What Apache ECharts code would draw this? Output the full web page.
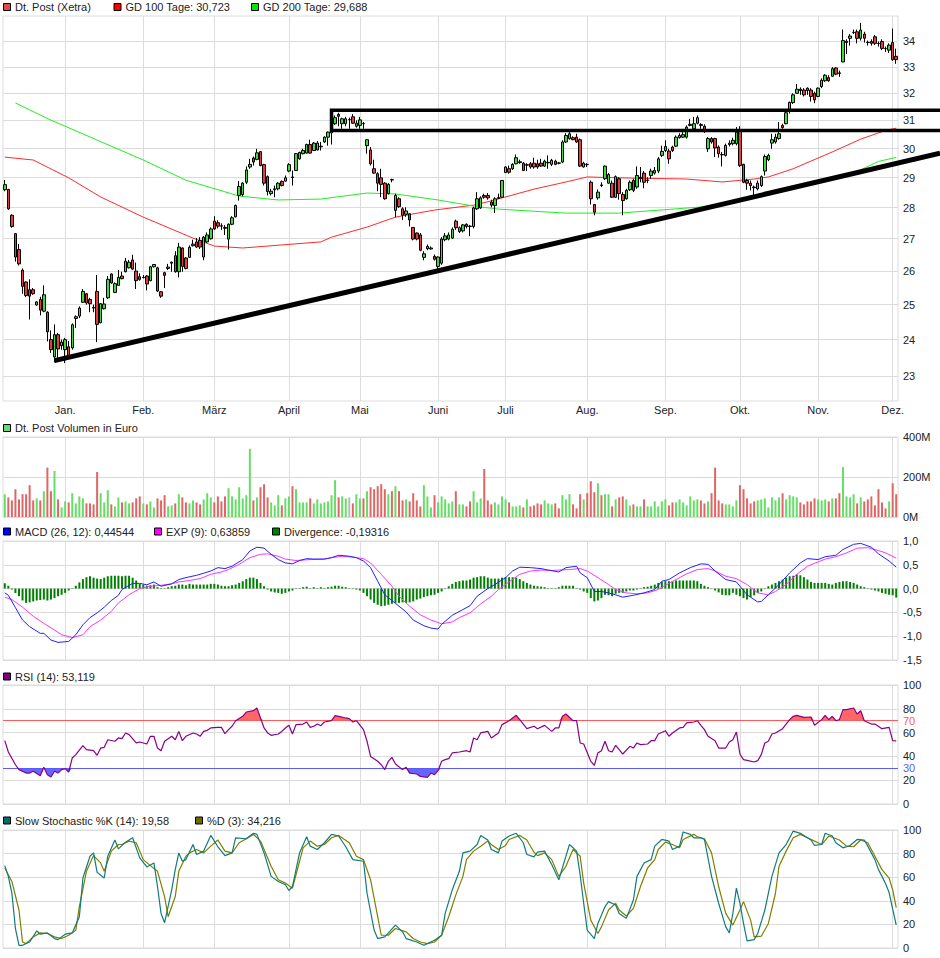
<!DOCTYPE html>
<html><head><meta charset="utf-8">
<script src="https://cdn.jsdelivr.net/npm/echarts@6/dist/echarts.min.js"></script>
<style>html,body{margin:0;padding:0;background:#fff}#c{width:940px;height:958px}</style>
</head><body><div id="c"></div>
<script>
// ---------- DATA ----------
const monthStarts = [17,39,59,80,100,122,141,164,186,207,229,250];
const monthLabels = ['Jan.','Feb.','März','April','Mai','Juni','Juli','Aug.','Sep.','Okt.','Nov.','Dez.'];
const priceTicks = [23,24,25,26,27,28,29,30,31,32,33,34];

const open = [28.59,28.60,27.75,27.16,26.66,26.03,25.67,25.44,25.44,24.99,
25.15,24.81,24.78,24.00,23.52,24.14,23.83,23.72,23.80,23.77,
24.60,24.67,25.07,25.32,25.15,24.92,25.39,24.48,24.88,25.20,
25.91,25.36,25.57,25.85,25.98,26.10,26.34,26.00,25.83,25.80,
25.85,25.71,26.13,26.10,25.38,25.95,26.08,26.24,26.47,25.98,
26.71,26.40,26.42,26.78,26.90,26.95,26.43,26.90,27.00,27.56,
27.51,27.41,27.36,26.99,27.46,27.70,28.40,28.43,28.84,29.36,
29.67,29.62,29.89,29.44,29.03,28.46,28.59,28.62,28.87,28.88,
29.22,29.02,29.24,29.64,29.82,29.84,30.14,29.93,29.95,30.06,
30.23,30.40,30.55,30.88,31.22,30.88,30.88,31.03,31.13,30.79,
30.82,30.89,30.10,29.95,29.30,29.13,28.99,28.81,28.46,28.93,
27.91,28.29,27.96,27.78,27.80,27.36,27.18,27.12,26.42,26.69,
26.68,26.45,26.14,26.24,26.97,26.99,27.02,27.56,27.23,27.25,
27.46,27.40,27.39,27.96,27.99,28.40,28.40,28.18,28.07,28.30,
28.34,29.17,29.30,29.30,29.47,29.51,29.49,29.42,29.47,29.49,
29.47,29.49,29.39,29.50,29.45,29.56,29.50,29.53,30.23,30.35,
30.38,30.40,30.31,29.36,29.45,28.84,28.10,28.32,28.75,28.96,
28.81,28.81,28.34,28.96,28.43,28.29,28.59,28.90,28.68,28.96,
29.15,28.90,29.07,29.15,29.22,29.76,29.93,29.91,30.05,30.08,
30.38,30.40,30.40,30.82,30.70,30.90,30.85,30.79,29.99,30.35,
30.35,30.05,29.79,29.76,30.14,30.17,30.17,30.62,29.45,28.90,
28.81,28.68,28.62,28.73,29.22,29.61,30.19,30.23,30.35,30.82,
30.88,31.40,31.65,32.00,32.15,32.12,32.19,32.12,32.00,31.88,
32.25,32.47,32.59,32.64,32.96,32.77,33.19,33.95,34.12,34.35,
34.38,34.12,34.29,33.96,33.99,34.18,33.92,33.99,33.72,33.65,
33.95,33.41];
const close = [28.76,27.96,27.39,26.43,26.22,25.54,25.27,25.25,25.32,25.08,
24.84,25.29,24.22,23.72,24.14,23.74,23.93,24.00,23.54,24.42,
24.65,24.90,25.39,25.05,25.03,24.90,24.43,25.03,25.02,25.75,
25.64,25.62,25.81,25.77,26.30,26.27,26.06,25.71,25.75,25.81,
25.61,26.13,26.20,25.40,25.25,25.87,26.12,26.27,25.98,26.74,
26.14,26.08,26.73,26.83,26.74,26.74,27.05,27.12,27.31,27.31,
27.40,27.40,27.33,27.46,27.67,28.07,28.70,28.81,29.26,29.45,
29.53,29.85,29.41,28.81,28.53,28.54,28.62,28.81,28.73,28.99,
29.44,29.00,29.82,29.86,29.93,30.14,29.84,30.19,30.19,30.08,
30.40,30.58,31.13,31.10,31.15,31.06,31.06,31.03,30.90,30.90,
31.02,30.88,30.31,29.47,29.15,28.81,28.77,28.29,28.77,28.92,
28.40,28.03,27.75,27.89,27.60,26.99,26.99,26.64,26.53,26.76,
26.71,26.36,26.43,26.99,27.09,27.12,27.30,27.35,27.35,27.44,
27.39,27.39,27.99,28.29,28.32,28.34,28.32,28.08,28.29,28.33,
28.90,29.36,29.18,29.45,29.68,29.54,29.24,29.44,29.36,29.36,
29.36,29.39,29.56,29.52,29.59,29.45,29.49,30.23,30.46,30.52,
30.31,30.23,29.39,29.49,29.44,28.29,27.85,28.51,28.73,29.39,
29.10,28.34,29.03,28.46,28.23,28.57,28.84,28.57,29.07,29.01,
28.84,28.92,29.22,29.24,29.64,29.90,30.07,29.64,29.93,30.40,
30.46,30.49,30.76,30.86,30.88,31.10,30.82,30.64,30.35,30.23,
30.02,29.82,29.78,30.11,30.19,30.29,30.58,29.41,28.84,28.81,
28.73,28.66,28.81,29.03,29.72,29.76,30.31,30.40,30.52,30.74,
31.28,31.66,31.94,32.15,32.10,31.94,32.10,31.88,31.75,32.19,
32.49,32.68,32.47,32.93,32.72,32.75,34.03,34.00,34.21,34.36,
34.12,34.45,34.12,33.95,33.92,33.92,33.91,33.72,33.71,33.85,
33.28,33.28];
const low = [28.54,27.93,27.35,26.29,26.17,25.32,25.22,24.57,25.29,24.97,
24.69,24.78,23.95,23.63,23.37,23.49,23.72,23.35,23.49,23.72,
24.33,24.61,25.05,25.00,24.78,24.78,23.93,24.46,24.86,25.17,
25.62,25.34,25.56,25.75,25.96,26.08,26.03,25.46,25.71,25.78,
25.42,25.69,26.11,25.37,25.20,25.49,26.03,25.98,25.95,25.81,
25.98,26.05,26.40,26.76,26.71,26.68,26.33,26.87,26.97,27.28,
27.33,27.28,27.12,26.66,27.43,27.68,28.23,28.37,28.78,29.30,
29.41,29.59,29.38,28.73,28.40,28.40,28.34,28.57,28.70,28.86,
29.18,28.73,29.22,29.61,29.79,29.82,29.82,29.91,29.93,29.93,
30.20,30.10,30.14,30.84,30.79,30.70,30.79,30.70,30.88,30.74,
30.70,30.70,29.82,29.41,29.13,28.54,28.34,28.26,28.43,28.84,
27.68,27.99,27.60,27.70,27.39,26.95,26.95,26.61,26.33,26.64,
26.66,26.32,26.05,26.19,26.92,26.95,26.99,27.28,27.18,27.20,
27.33,27.08,27.33,27.93,27.96,28.29,28.26,28.01,27.82,28.29,
28.32,29.15,29.13,29.26,29.45,29.47,29.22,29.22,29.30,29.30,
29.30,29.36,29.36,29.30,29.39,29.42,29.45,29.49,30.20,30.31,
30.29,30.20,29.36,29.34,29.36,28.10,27.75,28.26,28.68,28.92,
28.79,28.32,28.32,28.26,27.75,28.26,28.55,28.51,28.62,28.84,
28.64,28.81,28.96,29.10,29.15,29.70,29.88,29.47,29.88,30.05,
30.35,30.38,30.35,30.79,30.67,30.86,30.70,30.55,29.88,30.17,
29.70,29.68,29.38,29.72,30.07,30.11,30.11,29.36,28.81,28.59,
28.57,28.40,28.57,28.68,29.07,29.56,29.99,30.17,30.31,30.70,
30.86,31.25,31.60,31.98,31.94,31.88,31.94,31.69,31.63,31.85,
32.19,32.43,32.43,32.62,32.68,32.62,33.19,33.50,33.83,34.29,
33.92,34.03,33.95,33.83,33.83,33.85,33.79,33.65,33.58,33.54,
33.23,33.12];
const high = [28.92,28.62,27.78,27.18,26.83,26.08,25.69,25.75,25.49,25.10,
25.23,25.57,24.81,24.26,24.43,24.19,24.00,24.05,23.96,24.46,
24.69,24.95,25.46,25.34,25.20,25.00,25.88,25.05,25.20,25.85,
25.93,25.66,26.03,25.98,26.40,26.34,26.50,26.26,25.93,25.88,
25.88,26.16,26.21,26.13,25.40,25.98,26.22,26.29,26.61,26.87,
26.73,26.43,26.79,26.97,27.02,27.05,27.09,27.20,27.36,27.72,
27.59,27.49,27.43,27.49,27.72,28.10,28.88,28.84,29.38,29.64,
29.72,29.99,29.91,29.47,29.07,28.62,28.73,28.84,28.90,29.07,
29.49,29.24,29.84,29.89,29.99,30.17,30.31,30.23,30.26,30.23,
30.43,30.60,31.30,31.18,31.28,31.10,31.13,31.10,31.23,31.00,
31.13,30.94,30.33,30.05,29.61,29.18,29.30,28.84,28.81,28.96,
28.46,28.34,28.01,28.01,27.82,27.36,27.20,27.18,26.61,26.82,
26.76,26.51,26.45,27.05,27.18,27.20,27.36,27.61,27.39,27.47,
27.49,27.44,28.03,28.51,28.37,28.46,28.48,28.26,28.34,28.46,
28.92,29.38,29.41,29.49,29.79,29.61,29.53,29.49,29.53,29.68,
29.61,29.64,29.61,29.76,29.64,29.61,29.53,30.29,30.54,30.58,
30.43,30.52,30.35,29.54,29.49,28.90,28.12,28.60,28.84,29.41,
29.15,28.90,29.07,29.01,28.51,28.62,28.90,28.96,29.38,29.36,
29.22,29.01,29.30,29.36,29.70,30.10,30.29,29.99,30.10,30.46,
30.54,30.58,30.82,31.06,31.13,31.18,30.90,30.86,30.40,30.40,
30.38,30.11,29.88,30.17,30.29,30.38,30.76,30.79,29.47,28.96,
28.90,28.73,28.90,29.07,29.79,29.82,30.52,30.52,30.94,30.88,
31.31,31.69,32.00,32.35,32.22,32.19,32.22,32.19,32.06,32.22,
32.56,32.72,32.68,32.99,32.99,32.86,34.47,34.08,34.29,34.47,
34.47,34.74,34.38,34.03,34.08,34.25,33.99,34.08,33.79,33.92,
34.51,33.71];

const gd100 = [[0,29.70],[8,29.60],[18,28.99],[27,28.35],[39,27.69],[53,27.02],[59,26.77],[67,26.71],[89,26.90],[92,27.05],[102,27.37],[110,27.69],[121,27.92],[132,28.08],[137,28.22],[141,28.35],[149,28.61],[158,28.85],[164,29.02],[173,28.99],[192,28.95],[202,28.85],[211,28.95],[215,29.02],[222,29.30],[233,29.88],[241,30.33],[248,30.64],[251,30.72]];
const gd200 = [[3,31.64],[13,31.01],[39,29.60],[51,28.91],[66,28.38],[77,28.25],[89,28.28],[102,28.48],[110,28.45],[122,28.25],[132,28.05],[139,27.95],[158,27.82],[173,27.82],[196,28.02],[213,28.35],[222,28.68],[239,29.15],[246,29.55],[251,29.69]];

// drawn lines: [index, price]
const trendFrom = [14, 23.42], trendTo = [251, 29.48];
const boxStart = 92, boxTop = 31.37, boxBottom = 30.64, boxRef = 251;

const volume = [114,98,83,139,88,114,114,159,83,93,
83,129,247,129,230,88,48,78,73,119,
68,103,93,68,68,63,225,119,73,134,
63,53,98,73,78,68,73,93,103,68,
63,78,48,93,83,109,53,58,68,114,
98,73,68,83,73,63,88,119,98,73,
103,78,103,144,103,88,149,93,109,341,
83,98,149,164,98,73,58,109,58,93,
103,154,139,73,73,73,93,68,88,68,
73,78,109,184,98,103,93,98,68,114,
93,93,129,149,139,154,164,139,114,129,
154,129,83,88,78,119,83,53,159,103,
48,109,73,103,88,68,78,129,63,63,
53,78,129,73,93,240,83,63,73,63,
103,88,73,53,53,58,48,88,53,58,
68,63,83,68,63,68,43,109,88,114,
63,43,114,88,119,179,124,169,109,114,
114,53,88,98,103,88,58,63,53,53,
88,53,53,78,53,78,88,58,73,73,
88,73,58,103,83,88,83,68,78,119,
247,83,68,63,63,53,83,159,139,93,
68,78,83,88,93,48,98,83,98,119,
88,109,103,98,73,63,78,78,93,88,
83,88,78,93,93,119,250,103,98,114,
68,98,78,88,103,58,139,73,43,78,
169,114];

const macd = [[0,-0.09],[1,-0.14],[3,-0.40],[5,-0.66],[7,-0.80],[10,-0.94],[11,-0.94],[13,-1.08],[15,-1.13],[18,-1.11],[20,-0.97],[22,-0.76],[24,-0.61],[26,-0.51],[28,-0.39],[30,-0.25],[32,-0.14],[33,-0.02],[36,0.11],[38,0.11],[40,0.08],[42,0.14],[44,0.05],[47,0.10],[49,0.19],[51,0.23],[54,0.28],[55,0.30],[58,0.37],[60,0.44],[62,0.42],[64,0.47],[67,0.61],[69,0.79],[71,0.87],[73,0.85],[75,0.72],[77,0.61],[79,0.54],[81,0.52],[83,0.59],[85,0.63],[87,0.62],[90,0.62],[92,0.65],[94,0.70],[97,0.68],[99,0.65],[101,0.58],[103,0.44],[105,0.155],[107,-0.13],[109,-0.25],[111,-0.37],[113,-0.49],[115,-0.66],[118,-0.78],[120,-0.83],[122,-0.85],[123,-0.75],[126,-0.56],[129,-0.44],[131,-0.36],[133,-0.16],[136,0.0],[138,0.085],[141,0.23],[143,0.37],[145,0.45],[148,0.44],[151,0.42],[153,0.39],[156,0.35],[158,0.44],[161,0.47],[162,0.33],[164,0.23],[166,-0.06],[168,-0.06],[170,-0.09],[172,-0.13],[174,-0.18],[177,-0.14],[180,-0.09],[183,-0.02],[185,0.155],[187,0.19],[190,0.33],[193,0.44],[196,0.52],[198,0.51],[200,0.37],[203,0.19],[206,0.14],[207,0.05],[209,-0.13],[212,-0.28],[213,-0.27],[215,-0.13],[218,0.085],[221,0.33],[224,0.54],[226,0.63],[229,0.61],[231,0.67],[234,0.70],[236,0.82],[239,0.93],[241,0.95],[244,0.87],[246,0.73],[249,0.58],[251,0.45]];
const signal = [[0,-0.18],[2,-0.23],[5,-0.39],[8,-0.58],[11,-0.73],[14,-0.87],[16,-0.97],[19,-1.03],[22,-0.97],[24,-0.80],[27,-0.66],[30,-0.48],[32,-0.30],[35,-0.13],[38,0.0],[41,0.05],[44,0.07],[47,0.10],[49,0.14],[52,0.17],[55,0.21],[58,0.30],[61,0.35],[63,0.40],[66,0.51],[69,0.65],[72,0.72],[74,0.73],[77,0.68],[79,0.62],[82,0.59],[86,0.61],[90,0.62],[92,0.65],[95,0.68],[98,0.66],[101,0.63],[103,0.54],[106,0.30],[109,0.05],[111,-0.16],[114,-0.37],[117,-0.55],[120,-0.66],[123,-0.74],[126,-0.70],[128,-0.61],[131,-0.51],[134,-0.32],[137,-0.16],[139,-0.02],[142,0.14],[145,0.30],[148,0.37],[151,0.39],[154,0.38],[156,0.39],[159,0.40],[162,0.42],[164,0.37],[167,0.23],[170,0.085],[172,-0.02],[175,-0.09],[178,-0.11],[181,-0.09],[184,-0.02],[186,0.07],[189,0.19],[192,0.31],[195,0.40],[198,0.42],[200,0.37],[203,0.26],[206,0.21],[209,0.085],[212,-0.09],[215,-0.13],[217,-0.06],[220,0.085],[223,0.30],[226,0.47],[229,0.56],[231,0.62],[234,0.67],[237,0.75],[240,0.85],[243,0.86],[246,0.80],[248,0.75],[251,0.64]];
const divergence = [0.11,0.06,-0.02,-0.09,-0.16,-0.25,-0.30,-0.29,-0.27,-0.25,
-0.24,-0.23,-0.25,-0.23,-0.20,-0.16,-0.13,-0.09,-0.04,-0.01,
0.06,0.13,0.20,0.24,0.26,0.23,0.21,0.20,0.23,0.26,
0.27,0.27,0.27,0.26,0.27,0.27,0.23,0.17,0.10,0.085,
0.06,0.07,0.085,0.03,0.01,0.01,0.03,0.05,0.06,0.085,
0.085,0.07,0.10,0.085,0.085,0.085,0.085,0.085,0.10,0.10,
0.085,0.06,0.05,0.05,0.07,0.085,0.12,0.155,0.20,0.23,
0.23,0.20,0.12,0.05,-0.02,-0.06,-0.08,-0.09,-0.11,-0.09,
-0.06,-0.04,-0.01,0.01,0.03,0.04,-0.01,0.03,0.01,0.03,
0.01,0.03,0.04,0.06,0.06,0.04,0.03,0.01,-0.01,-0.02,
-0.04,-0.09,-0.16,-0.23,-0.30,-0.34,-0.37,-0.36,-0.34,-0.32,
-0.30,-0.30,-0.29,-0.30,-0.29,-0.27,-0.23,-0.21,-0.18,-0.16,
-0.14,-0.13,-0.09,-0.06,-0.01,0.05,0.10,0.14,0.155,0.17,
0.17,0.19,0.23,0.24,0.26,0.26,0.23,0.21,0.21,0.21,
0.23,0.24,0.24,0.24,0.23,0.20,0.155,0.12,0.085,0.06,
0.05,0.04,0.03,0.01,0.01,-0.01,0.03,0.06,0.06,0.06,
0.06,0.01,-0.02,-0.06,-0.09,-0.20,-0.27,-0.25,-0.20,-0.13,
-0.14,-0.16,-0.11,-0.09,-0.09,-0.06,-0.04,-0.04,-0.02,0.01,
0.03,0.04,0.06,0.085,0.12,0.14,0.155,0.155,0.155,0.17,
0.17,0.17,0.17,0.17,0.17,0.155,0.10,0.06,0.03,-0.01,
-0.04,-0.08,-0.13,-0.14,-0.14,-0.09,-0.13,-0.16,-0.20,-0.23,
-0.18,-0.14,-0.09,-0.06,-0.01,0.05,0.085,0.12,0.155,0.19,
0.23,0.26,0.27,0.30,0.28,0.24,0.19,0.14,0.12,0.12,
0.12,0.12,0.10,0.085,0.12,0.14,0.155,0.155,0.14,0.12,
0.085,0.05,0.03,-0.01,-0.02,-0.04,-0.06,-0.09,-0.11,-0.13,
-0.14,-0.19];

const rsi = [[0,53.2],[1,43.7],[3,33],[4,28.9],[6,26],[7,26],[8,27.5],[10,23.8],[11,30.8],[12,24.6],[13,22.7],[14,27.5],[15,26],[16,28.9],[17,29.7],[18,26.9],[19,38.7],[20,41.5],[22,49],[23,45.7],[25,44.8],[26,40.9],[27,47],[28,47.6],[29,54],[31,52.7],[32,55.5],[33,54.9],[34,59.7],[35,58.3],[37,51.3],[38,52.1],[40,50.4],[41,56.9],[42,56.9],[43,47],[44,44.8],[45,52.7],[46,54.9],[47,56.9],[48,54],[49,61],[50,53.2],[51,56.9],[53,59.7],[54,58.8],[55,56.9],[56,61],[57,61.9],[58,63.9],[60,64.4],[61,64.4],[62,59.1],[63,62.5],[64,65.3],[65,70],[67,73.7],[68,77.3],[70,78.4],[71,80.7],[72,72.3],[73,63.9],[74,59.7],[75,57.7],[77,58.8],[78,61],[79,63.9],[80,66.1],[81,58.8],[82,66.7],[84,67.2],[85,68.9],[86,64.4],[87,65.3],[88,67.2],[89,65.8],[90,68.9],[92,70],[93,74.2],[94,73.7],[96,72.3],[97,71.7],[98,68.9],[99,70],[101,62.5],[102,52.7],[103,40],[105,35.9],[106,33],[107,28.9],[108,35.9],[109,39.2],[110,33.6],[112,28.9],[113,30.8],[114,26],[116,25.2],[117,23.2],[119,22.4],[120,26],[121,24.6],[122,28],[123,35.9],[124,37.3],[125,38.1],[126,42.9],[128,43.7],[130,44.8],[131,43.7],[132,55.5],[133,54],[134,59.7],[136,61],[137,55.5],[139,59.7],[140,66.7],[142,70],[144,74.5],[145,70.9],[147,63.3],[149,65.3],[150,63.3],[152,66.1],[154,61],[155,63.9],[156,63.9],[157,73.7],[158,75.6],[160,70],[161,70],[162,51.3],[163,50.4],[165,35.9],[166,32.5],[167,42.9],[168,44.8],[169,52.7],[170,44.8],[171,43.7],[172,49.3],[173,45.7],[174,42],[176,48.5],[177,47],[178,51.3],[179,49.9],[181,50.4],[182,53.2],[183,53.2],[184,58.8],[186,61.6],[187,56.9],[188,59.7],[190,63.9],[191,64.4],[192,68.1],[194,68.9],[195,70],[196,66.1],[197,62.5],[198,56.9],[200,53.2],[201,47],[203,47],[204,52.1],[205,54],[206,60.5],[207,42],[208,37.3],[209,36.7],[211,35.3],[212,36.4],[213,41.5],[214,51.3],[215,52.7],[216,58.8],[217,59.7],[219,63.3],[221,70.9],[222,73.7],[223,74.5],[225,72.8],[227,73.1],[228,66.1],[230,70.9],[231,74.5],[232,70.9],[233,73.7],[234,70],[235,70.9],[236,79.3],[237,79.3],[239,80.7],[240,75.6],[241,78.4],[242,70],[244,67.2],[245,67.2],[247,63.3],[249,64.4],[250,53.2],[251,53.1]];

const stochK = [[0,69.8],[1,60.7],[2,46.4],[3,16.5],[4,2.3],[5,2.3],[7,5.1],[9,14.5],[10,11.7],[12,12.8],[14,8],[15,7.1],[17,11.7],[19,12.8],[21,26.5],[22,59.3],[24,77.8],[25,80.6],[26,64.1],[28,59.3],[29,77.8],[31,91.5],[32,84],[34,89.7],[36,93.4],[38,76.4],[40,68.7],[42,72.1],[43,52.1],[44,29.3],[45,21.4],[47,49.3],[48,66.4],[49,80.6],[50,73.5],[51,74.9],[53,87.7],[54,79.2],[56,82.1],[58,95.4],[60,85.8],[62,78.3],[64,80.6],[65,93.4],[68,92.6],[70,97.2],[71,96.3],[73,80.6],[75,60.7],[77,56.4],[79,53.6],[80,48.7],[81,52.1],[83,80.6],[85,94.3],[86,86.3],[88,83.5],[90,89.2],[92,96.3],[94,94.9],[96,85.8],[98,74.9],[101,73.5],[102,46.4],[104,15.1],[105,8],[107,9.4],[110,19.4],[112,13.7],[113,8],[116,5.1],[118,2.3],[121,6.6],[123,10.8],[124,29.3],[126,49.3],[128,65],[129,80.6],[131,82.1],[133,87.7],[134,95.4],[136,91.5],[137,83.5],[139,80.6],[140,90.6],[142,94.9],[144,97.2],[146,89.2],[147,79.2],[149,77.2],[150,81.2],[152,82.1],[154,70.7],[156,57.8],[158,77.8],[159,87.7],[161,82.1],[162,62.1],[163,37.9],[164,15.1],[166,8],[167,20.8],[169,35],[170,39.3],[172,36.5],[173,29.3],[175,25.1],[177,40.7],[178,60.7],[180,72.1],[182,74.9],[183,86.3],[185,92],[187,90.6],[188,83.5],[190,86.3],[191,98.3],[193,96.3],[194,93.4],[196,93.4],[197,92],[199,60.7],[201,37.9],[203,17.9],[204,12.8],[205,29.3],[206,50.7],[207,37.9],[208,20.8],[209,6],[211,7.1],[212,12.3],[214,32.2],[216,60.7],[218,80.6],[220,87.7],[222,99.1],[224,97.2],[226,93.4],[227,91.5],[228,86.9],[230,87.7],[231,97.2],[233,94.9],[234,89.2],[236,84.9],[238,86.9],[240,92],[242,91.5],[243,86.3],[245,74.9],[246,66.4],[247,60.7],[248,54.4],[249,47],[250,33],[251,19.58]];
const stochD = [[0,67.8],[2,56.4],[4,32.2],[5,5.1],[6,3.7],[8,9.4],[10,12.8],[12,12.3],[14,9.4],[16,8],[18,10.8],[20,15.1],[21,35],[23,65],[25,78.3],[27,72.1],[28,65],[30,82.1],[32,87.7],[33,87.7],[35,90.6],[37,89.2],[39,74.9],[41,69.8],[43,65],[45,43.6],[46,26.5],[48,43.6],[49,65],[51,77.8],[52,80.6],[54,83.5],[56,80.6],[58,86.3],[60,91.5],[62,82.1],[64,80.6],[66,89.2],[68,92.6],[70,96.3],[72,90.6],[75,69.2],[77,57.8],[79,55],[81,50.7],[82,62.1],[84,84.9],[86,90.6],[88,86.3],[90,87.7],[92,93.4],[94,95.4],[97,89.2],[99,77.8],[101,74.9],[103,57.8],[105,26.5],[106,10.8],[108,10.8],[110,16.5],[113,13.7],[115,8],[117,5.1],[119,3.7],[121,5.1],[123,10.8],[125,26.5],[127,45],[129,60.7],[130,74.9],[132,82.1],[134,86.3],[136,90.6],[137,87.7],[139,83.5],[141,86.9],[142,92],[145,95.4],[147,91.5],[149,81.2],[150,78.3],[152,80.6],[154,74.9],[156,60.7],[158,69.2],[160,83.5],[162,77.8],[163,55],[165,23.6],[167,12.3],[168,17.9],[170,32.2],[172,37.9],[173,32.2],[175,27.1],[177,33.6],[179,52.1],[181,67.8],[183,74.9],[184,83.5],[186,89.7],[188,87.7],[190,84.9],[191,92],[194,96.3],[195,94.3],[197,92.6],[199,80.6],[201,52.1],[203,29.3],[205,19.4],[207,32.2],[208,39.3],[210,23.6],[211,9.4],[213,10],[215,20.8],[217,46.4],[218,69.2],[220,82.1],[222,93.4],[224,96.3],[226,93.4],[228,90.6],[230,87.7],[232,94.9],[235,91.5],[237,86.3],[239,85.8],[241,91.5],[243,89.2],[245,77.8],[247,66.4],[249,59.3],[250,49.3],[251,34.2]];

// ---------- CHART ----------
const N = close.length;
const cats = Array.from({length: N}, (_, i) => String(i));
const FONT = 'Liberation Sans, Arial, sans-serif';
const GRID_C = '#dcdcdc';
const TXT = '#222';
const UP = '#3ddc3d', DOWN = '#e83c3c';

const grids = [
  {top: 16, height: 385}, {top: 437, height: 80}, {top: 541, height: 119},
  {top: 685, height: 119}, {top: 830, height: 118}
].map(g => Object.assign({left: 3, right: 42, show: true, borderColor: GRID_C, borderWidth: 1,
  containLabel: false, outerBoundsMode: 'none'}, g));

const xAxes = grids.map((g, k) => ({
  type: 'category', gridIndex: k, data: cats, boundaryGap: true,
  axisLine: {show: false}, axisTick: {show: false}, splitLine: {show: false},
  axisLabel: k === 0 ? {
    show: true, color: TXT, fontSize: 11, fontFamily: FONT, margin: 3,
    interval: (idx) => monthStarts.indexOf(idx) >= 0,
    formatter: (v) => { const j = monthStarts.indexOf(Number(v)); return j >= 0 ? monthLabels[j] : ''; }
  } : {show: false}
}));

const yLabel = (fmt) => ({show: true, color: TXT, fontSize: 11, fontFamily: FONT, margin: 5, formatter: fmt});
const ySplit = {show: true, lineStyle: {color: GRID_C, width: 1}};
const yAxes = [
  {type: 'log', gridIndex: 0, position: 'right', min: 22.34, max: 35.02, logBase: 10,
   axisLabel: {show: false}, splitLine: {show: false}, axisLine: {show: false}, axisTick: {show: false}},
  {type: 'value', gridIndex: 1, position: 'right', min: 0, max: 400, interval: 200,
   axisLabel: yLabel(v => v + 'M'), splitLine: ySplit, axisLine: {show: false}, axisTick: {show: false}},
  {type: 'value', gridIndex: 2, position: 'right', min: -1.5, max: 1, interval: 0.5,
   axisLabel: yLabel(v => v.toFixed(1).replace('.', ',')), splitLine: ySplit, axisLine: {show: false}, axisTick: {show: false}},
  {type: 'value', gridIndex: 3, position: 'right', min: 0, max: 100, interval: 20,
   axisLabel: yLabel(v => String(v)), splitLine: ySplit, axisLine: {show: false}, axisTick: {show: false}},
  {type: 'value', gridIndex: 4, position: 'right', min: 0, max: 100, interval: 20,
   axisLabel: yLabel(v => String(v)), splitLine: ySplit, axisLine: {show: false}, axisTick: {show: false}}
];

const monthLines = monthStarts.map(i => ({xAxis: i, label: {show: false}}));
const gridMarkLine = (extra) => ({
  silent: true, symbol: 'none', z: 1, animation: false,
  lineStyle: {color: GRID_C, width: 1, type: 'solid'},
  label: {show: true, position: 'end', color: TXT, fontSize: 11, fontFamily: FONT, distance: 5, formatter: p => String(p.value)},
  emphasis: {disabled: true},
  data: (extra || []).concat(monthLines)
});

const lineS = (xi, data, color, w, extra) => Object.assign({
  type: 'line', xAxisIndex: xi, yAxisIndex: xi, data, symbol: 'none', showSymbol: false,
  lineStyle: {color, width: w}, itemStyle: {color}, silent: true, animation: false, z: 3,
  emphasis: {disabled: true}
}, extra || {});

const candles = open.map((o, i) => [o, close[i], low[i], high[i]]);
const volData = volume.map((v, i) => ({
  value: v,
  itemStyle: {color: close[i] > open[i] ? '#66dd66' : (close[i] < open[i] ? '#e06666' : '#bbbbbb')}
}));
const rsiHigh = rsi.map(([i, v]) => [i, Math.max(v, 70)]);
const rsiLow = rsi.map(([i, v]) => [i, Math.min(v, 30)]);

const series = [
  lineS(0, gd100, '#ff2a2a', 1, {z: 2, markLine: gridMarkLine(priceTicks.map(v => ({yAxis: v})))}),
  lineS(0, gd200, '#22ee22', 1, {z: 2}),
  {type: 'candlestick', xAxisIndex: 0, yAxisIndex: 0, data: candles, barWidth: 3, z: 3,
   silent: true, animation: false,
   itemStyle: {color: UP, color0: DOWN, borderColor: '#000', borderColor0: '#000', borderWidth: 1}},
  {type: 'bar', xAxisIndex: 1, yAxisIndex: 1, data: volData, barWidth: 2, silent: true, animation: false,
   markLine: gridMarkLine()},
  {type: 'bar', xAxisIndex: 2, yAxisIndex: 2, data: divergence, barWidth: 2, silent: true, animation: false,
   itemStyle: {color: '#008000'}, markLine: gridMarkLine()},
  lineS(2, signal, '#ff33ff', 1),
  lineS(2, macd, '#2020ff', 1, {z: 4}),
  lineS(3, rsiHigh, '#ff6666', 0, {z: 2, areaStyle: {origin: 70, color: '#ff6666', opacity: 1}, markLine: gridMarkLine()}),
  lineS(3, rsiLow, '#6666ff', 0, {z: 2, areaStyle: {origin: 30, color: '#6666ff', opacity: 1}}),
  lineS(3, rsi, '#880088', 1.2, {z: 4, markLine: {
    silent: true, symbol: 'none', z: 3, animation: false,
    label: {show: true, position: 'end', fontSize: 11, fontFamily: FONT, distance: 5, formatter: p => String(p.value)},
    data: [
      {yAxis: 70, lineStyle: {color: '#ff5a5a', width: 1, type: 'solid'}, label: {color: '#ff5a5a'}},
      {yAxis: 30, lineStyle: {color: '#5a5aff', width: 1, type: 'solid'}, label: {color: '#5a5aff'}}
    ]}}),
  lineS(4, stochD, '#7f7f00', 1.2, {markLine: gridMarkLine()}),
  lineS(4, stochK, '#127b7b', 1.2, {z: 4})
];

const chart = echarts.init(document.getElementById('c'), null, {renderer: 'svg'});
chart.setOption({
  animation: false, backgroundColor: '#fff',
  textStyle: {fontFamily: FONT},
  grid: grids, xAxis: xAxes, yAxis: yAxes, series
});

// ---------- overlays: legends + drawn lines ----------
const toPx = p => chart.convertToPixel({xAxisIndex: 0, yAxisIndex: 0}, p);
const W = chart.getWidth();
const extend = (a, b) => { const t = (W - a[0]) / (b[0] - a[0]); return [W, a[1] + (b[1] - a[1]) * t]; };
const t0 = toPx(trendFrom), t1 = toPx(trendTo);
const bt0 = toPx([boxStart, boxTop]), bt1 = toPx([boxRef, boxTop]);
const bb0 = toPx([boxStart, boxBottom]), bb1 = toPx([boxRef, boxBottom]);

const gfx = [];
function legend(x, y, color, text) {
  gfx.push({type: 'rect', z: 100, shape: {x: x, y: y - 3.5, width: 7, height: 7}, style: {fill: color, stroke: '#000', lineWidth: 1}});
  gfx.push({type: 'text', z: 100, x: x + 11.5, y: y, style: {text: text, fill: TXT, fontSize: 11, fontFamily: FONT, verticalAlign: 'middle', align: 'left'}});
}
legend(3.5, 7, '#e34848', 'Dt. Post (Xetra)');
legend(114, 7, '#ff0000', 'GD 100 Tage: 30,723');
legend(251.5, 7, '#00e600', 'GD 200 Tage: 29,688');
legend(3.5, 428, '#66dd66', 'Dt. Post Volumen in Euro');
legend(3.5, 531.5, '#0000ff', 'MACD (26, 12): 0,44544');
legend(154.5, 531.5, '#ff00ff', 'EXP (9): 0,63859');
legend(272.5, 531.5, '#008000', 'Divergence: -0,19316');
legend(3.5, 676.5, '#800080', 'RSI (14): 53,119');
legend(3.5, 820.5, '#006a6a', 'Slow Stochastic %K (14): 19,58');
legend(195.5, 820.5, '#6b6b00', '%D (3): 34,216');

gfx.push({type: 'polyline', z: 100, shape: {points: [t0, extend(t0, t1)]}, style: {stroke: '#000', lineWidth: 5, fill: null}});
gfx.push({type: 'polyline', z: 100, shape: {points: [extend(bt0, bt1), bt0, bb0, extend(bb0, bb1)]}, style: {stroke: '#000', lineWidth: 3.5, fill: null, lineJoin: 'miter'}});

chart.setOption({graphic: gfx});
</script>
</body></html>
